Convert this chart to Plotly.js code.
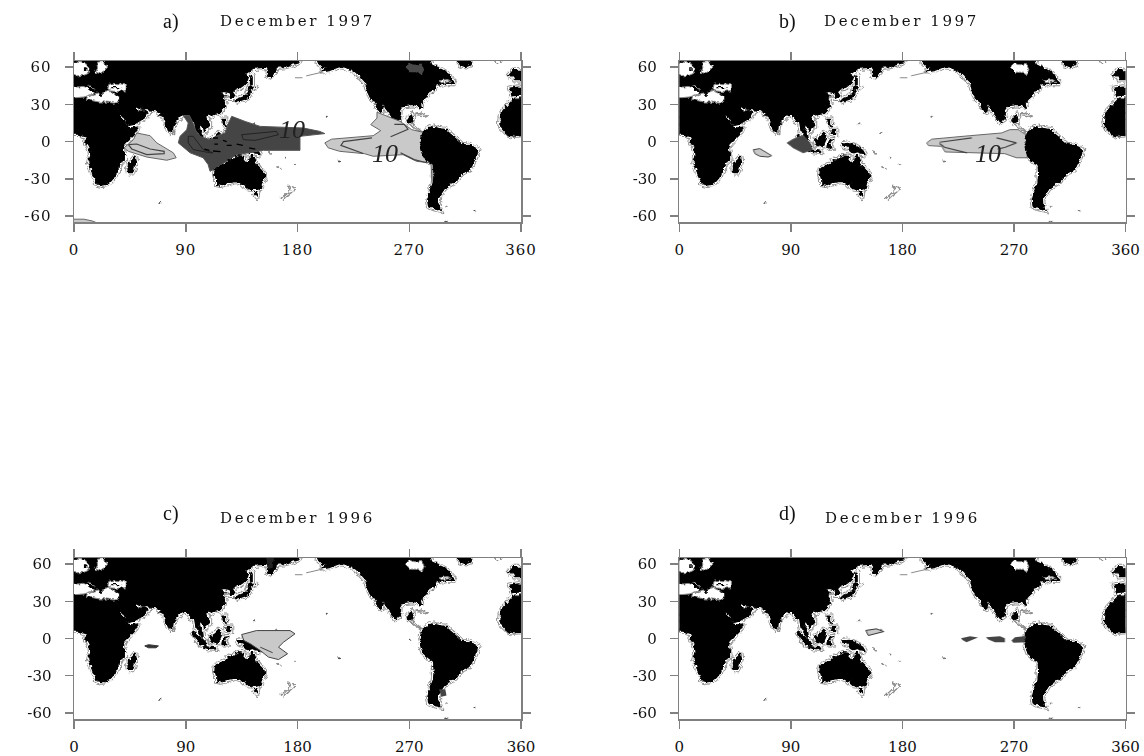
<!DOCTYPE html>
<html><head><meta charset="utf-8">
<script src="https://cdn.plot.ly/plotly-3.0.1.min.js"></script>
<style>
html,body{margin:0;padding:0;background:#fff}
#plot{width:1144px;height:756px;filter:blur(0.55px)}
.xtick text,.ytick text{letter-spacing:1px}
.scatterlayer .trace:nth-child(-n+9),.scatterlayer .trace:last-child{filter:url(#rough)}
</style></head><body>
<svg width="0" height="0" style="position:absolute"><filter id="rough" x="-30%" y="-30%" width="160%" height="160%" filterUnits="objectBoundingBox">
<feTurbulence type="fractalNoise" baseFrequency="0.24" numOctaves="2" seed="7" result="n"/>
<feDisplacementMap in="SourceGraphic" in2="n" scale="4.5" xChannelSelector="R" yChannelSelector="G"/></filter></svg>
<div id="plot"></div>
<script>
// ---- tick values ----
const lonTicks=[0,90,180,270,360];
const latTicks=[60,30,0,-30,-60];
const latLabels=['60','30','0','-30','-60'];
// ---- land outlines [lon,lat] ----
const afroEurasia=[[-3,6],[4,6],[7,4.5],[9,4],[10,2],[9.5,-1],[11.5,-4],[13,-7],[13.5,-11],[13,-14],[12,-17],[14,-22],[15,-26],[17,-30],[18.5,-34],[22,-35],[26,-34.5],[29,-32.5],[32,-29],[33,-26],[35.5,-24],[35.5,-20],[37.5,-17.5],[40.5,-15],[40.5,-10],[39.5,-6],[41,-2],[44,1],[47.5,4.5],[50,8.5],[51.5,12],[47,11],[43.5,11.5],[41.5,15],[39,17.5],[37.5,21],[36,25],[34,28],[33,29.5],[35,28],[38,23],[40,19],[42.5,15],[44,13],[48,14],[52,16],[55,18],[58,20],[59.5,23],[56.5,25],[54,24.5],[51,25],[50,27],[48,30],[51,28],[54,26.5],[57,26],[61,25.5],[66,25],[68,23.5],[70,21],[72.5,20.5],[73,16],[74.5,12.5],[76.5,9],[77.5,8],[79.5,10],[80,14],[82,16.5],[85,19.5],[87,21.5],[89.5,22],[91.5,22],[93,19],[94.5,16],[97,16.5],[98,12],[98.5,8],[100.5,5],[103,1.5],[104,2],[103.5,6],[100.5,10],[100,13.5],[102,12.5],[105,10],[106,9],[109,12],[109,15],[106.5,18.5],[106,20.5],[108.5,21.5],[110.5,20.5],[113,22],[116.5,23],[119.5,26],[121.5,29],[122,31],[120,33.5],[119,35],[122,37],[119,38],[118,39.5],[121,40.5],[124,40],[125,37.5],[126.5,35],[128.5,35],[129.5,37],[127.5,40],[130,42.5],[133,43],[136,45],[139,48],[140.5,52],[137,54],[140,56],[143,59],[150,59.5],[155,60],[157,57],[156,53],[158,52.5],[162,56],[163,60],[170,60.5],[175,62],[180,63.5],[183,68],[-3,68]];
const northAmerica=[[195,68],[197,63],[200,60],[204,59],[198,56],[206,57.5],[211,59.5],[214,60.5],[219,60],[224,58],[227,56],[230,53],[232,50],[235,47],[236,43],[237,39],[239,35],[242,32.5],[244,29],[246,25],[248,24],[249,27],[247,31],[249,30],[251,27],[254,23],[256,20],[259,16],[262,18],[263,22],[263,26],[265,29],[269,29.5],[273,30],[277,29],[279,26.5],[280,27],[279,31],[281,33],[284,35.5],[285,38],[287,41],[290,42],[292,47],[296,46],[300,47],[304,47],[307,47],[304,50],[302,54],[299,56],[296,58],[292,60],[288,62],[286,68]];
const southAmerica=[[281.6,8.3],[285,10.5],[288,11.8],[293,10.5],[299,9.7],[303,6],[307,3],[310,0],[312.5,-2.4],[318,-3],[322,-4.5],[325,-6.5],[324,-11],[322,-16],[320,-20],[318,-22.6],[313,-25],[309,-29],[307,-32],[302,-35],[298,-38],[296,-41],[293.6,-44],[293,-49],[295,-55],[290,-54],[285.6,-52],[285,-47],[286,-42],[288,-37],[289.6,-33],[290,-26],[289.6,-18.5],[285.5,-15.5],[281.5,-12],[280,-8],[279,-4],[280,0],[280,3]];
const westAfrica=[[363,5],[354,4.5],[350,5.5],[347,8],[344,11.5],[343,15],[343.5,20],[345.5,25],[350,30],[353,33],[355,35],[363,35]];
const australia=[[114,-22],[113.5,-26],[115,-31],[115,-34.5],[118,-35],[122,-34],[126,-32.5],[131,-32],[134,-33],[136,-35],[138,-33],[138,-35.5],[141,-38],[144,-38.5],[147,-38.5],[150,-37.5],[151,-33.5],[153.5,-29],[153,-25.5],[150,-22.5],[147,-19.5],[146,-17],[145,-15],[143.5,-11],[142,-12],[141.5,-16],[139,-17.5],[136,-15],[136.5,-12],[133,-11.5],[130,-12.5],[128,-15],[125,-14.5],[122,-18],[118,-20],[115,-21]];
const tasmania=[[145,-41],[148,-41],[147,-43.5]];
const madagascar=[[44,-25],[47,-25],[50,-16],[49.5,-12],[47,-15],[44,-17],[43.5,-22]];
const borneo=[[109,1],[110,-2],[114,-4],[116,-3.5],[118,1],[119,5],[117,7],[114,4],[111,2]];
const sumatra=[[95,5.5],[98,4],[103,0],[106,-3],[106,-6],[102,-5],[99,-1],[96,3]];
const java=[[105,-6.5],[108,-6],[114,-7],[114,-8.5],[108,-8],[105.5,-7.5]];
const sulawesi=[[119,-5],[120,0],[121,1],[125,1.5],[121,-1],[123,-5],[121,-5]];
const newGuinea=[[131,-1],[134,-1],[138,-2],[141,-3],[145,-5],[148,-7],[150,-10.5],[147,-10],[144,-8],[141,-9],[138,-8],[136,-4.5],[133,-3.5]];
const luzon=[[120,14],[120,18],[122,18],[122,14.5],[124,13]];
const mindanao=[[122,7],[123,9],[126,9],[126,6]];
const honshu=[[130,32],[131,34],[136,36],[140,39],[141,41.5],[142,39],[140.5,35.5],[136,34],[132,32.5]];
const hokkaido=[[140,42],[142,45],[145,43.5],[143,42]];
const sakhalin=[[142,46],[142.5,54],[143.5,52],[143.5,46]];
const yucatan=[[268,17],[270,20],[272,21.5],[273,19],[272,16],[270,15]];
const greenland=[[308,68],[311,62],[315,60.5],[319,62],[320,68]];
const britain=[[354,58],[357,58],[363,53],[363,50],[355,50],[354,53],[350,53]];
const spain=[[353,37],[351,43],[358,44],[363,43],[363,38]];
const blackLand=[afroEurasia,northAmerica,southAmerica,westAfrica,australia,tasmania,madagascar,borneo,sumatra,java,sulawesi,newGuinea,luzon,mindanao,honshu,hokkaido,sakhalin,yucatan,greenland,britain,spain];
// ---- inland seas (white over the land) ----
const northSea=[[-3,64],[5,64],[10,62.5],[12,58],[11.5,55],[8,53.5],[2,53],[-3,54]];
const baltic=[[18,64],[24,64.5],[27,60],[24,57],[21,55],[17,56],[19,60]];
const westMed=[[-3,45.5],[3,44],[7,44.5],[10,44],[13,45],[17,41],[15,38],[12,37],[8,36],[-3,35]];
const eastMed=[[11,37],[20,39.5],[23,40],[27,41],[36,37],[36,32.5],[33,31],[25,32],[20,32],[15,33],[10,34]];
const blackSea=[[27,41],[28,46],[33,47],[42,46],[42,41],[34,40.5]];
const stLawrence=[[294,49],[300,50],[304,48.5],[296,47.5]];
const hudsonBay=[[267,60],[270,63],[275,62],[280,63],[282,58],[280,54],[276,56],[271,56]];
const seas=[northSea,baltic,westMed,eastMed,blackSea,stLawrence];
// ---- black fragments on top of the seas ----
const jutland=[[8,60],[10,60],[10,57],[8,57]];
const italy=[[8,45],[13,44],[17,41],[16,38],[14,40],[10,43]];
const greece=[[20,40],[23,40],[23,37],[21,37]];
const crimea=[[30,44],[38,44],[38,43],[30,43]];
const seaIslands=[jutland,italy,greece,crimea];
// ---- outlined land without black core ----
const newZealand=[[172,-35],[175,-37],[178,-38],[175,-41],[171,-44],[168,-47],[166.5,-46],[170,-42.5],[174,-39]];
const iceland=[[337,68],[340,63.5],[344,64],[346,68]];
const centralAmerica=[[272,15],[276,12],[279,9],[283,8.5],[279,8],[275,10.5],[271,13.5]];
const cuba=[[275,22],[279,23],[285,20.5],[283,20],[279,21.5]];
const sriLanka=[[80,9.5],[82,7],[80.5,5.5]];
const solomon=[[155,-6.5],[158,-8.5],[160,-10],[158,-9.5]];
const newCaledonia=[[164,-20],[167,-22.5],[165.5,-22]];
const outlineLand=[newZealand,iceland,centralAmerica,cuba,sriLanka,solomon,newCaledonia];
const aleutians=[[[187,53],[195,54.5],[200,56]],[[178,51.5],[184,51.5]]];
const specksLon=[203.6,178,213.6,271,300,322.5,69.5,163,145,170,299,301];
const specksLat=[20,-18,-16,-1,-52.5,-55.5,-49.5,7,14,-13,-64.5,-64.5];
// ---- panel a anomalies ----
const aIndian=[[50.5,7],[61.3,4.8],[66.7,-1],[80,-9],[82.3,-13],[74.7,-15],[58.6,-12.4],[43.8,-7.8],[40.3,-5],[47.8,1.6]];
const aIndian10=[[43.8,-2.4],[50.5,-1.9],[61.3,-5.9],[72.6,-7.8],[72.6,-9.7],[58.6,-10.5],[46.5,-5.9]];
const aWarmPool=[[88,21],[93,21],[96,15],[98,9],[102,4],[109.6,1.6],[116,5],[121.7,7],[124,14],[127,20.4],[137.8,16.3],[149.9,12.3],[184.8,11],[197.7,8.3],[202,6.5],[182,4.3],[182,-7],[152.6,-7],[131,-10.5],[123,-15.8],[115,-21],[109.6,-23.9],[108,-18.5],[104,-13],[93.5,-9],[84,-1],[85.4,4.3],[90.8,9.6],[92,15]];
const aWarm10a=[[135,5.6],[163,8.3],[164.6,5.6],[145.9,1],[136.4,1.6]];
const aWarm10b=[[92,4.3],[96,4.3],[104,-6.4],[112,-9],[109.6,-9],[96,-6.4],[92,-1]];
const aDashes=[[[112,3],[116,3]],[[113,-2],[116,-2]],[[123,-3],[127,-3]],[[131,-2],[136,-3]],[[141,-5],[146,-6]],[[120,1],[123,0]],[[105,-6],[109,-7]],[[112,-7.5],[118,-8]]];
const aEastPacific=[[202,-1],[207.4,2],[241,4.8],[247,8.9],[239,13.7],[244,19],[244,23.7],[251.8,20.4],[262.5,16.4],[272,9.7],[281,7.5],[279,-3.8],[286.7,-17],[276,-15.9],[265,-10.5],[241,-11.8],[234,-9.7],[214,-7.8],[204.7,-5]];
const aPeruStrip=[[284,-10],[289,-18],[289.5,-33],[288.5,-33],[287.5,-18]];
const aEast10=[[[240,3],[217,0],[215,-3],[233,-9.5]],[[255,4],[269,10],[266,14],[258,14]],[[263,-9],[274,-14.5],[284,-17]]];
const aAntarctic=[[-3,-62.5],[8,-62.5],[15,-64],[22,-67],[-3,-67]];
const aHudsonDark=[[267,60],[270,63],[275,62],[280,63],[282,58],[280,54],[276,56],[271,56]];
// ---- panel b anomalies ----
const bSumatra=[[87,-1],[92,2],[100,5],[105.5,-1],[107,-6.5],[100,-9],[92,-5]];
const bIndian=[[59.7,-6.5],[65,-5.6],[74.5,-11.3],[71.8,-12.4],[65,-11.8],[61,-9.7]];
const bEastPacific=[[199.6,-1],[203.6,2],[234.5,4.8],[260,7],[266.8,9.7],[273.5,9.7],[281.6,4.3],[280,-2.4],[280.8,-13],[272,-13],[262.7,-9.7],[234.5,-9],[214.4,-8.3],[211.7,-3.8],[201,-3.2]];
const bEast10=[[[210,-0.5],[236,3]],[[210,-1.5],[214,-4.5],[232,-9]],[[256,3],[272,-1],[263,-4.5],[257,-6]]];
// ---- panel c anomalies ----
const cPacific=[[135,3.2],[147,6.4],[174,6.4],[178,3.8],[168.7,-3],[164.7,-7],[172,-12.3],[164.7,-17],[156.6,-15],[150,-9.7],[142,-4.3],[136.8,-1.6]];
const cPacificLine=[[[150,-7],[160,-11.5]]];
const cIndian=[[57,-6],[60,-5],[68,-6],[66,-7.5],[60,-7.5]];
const cAndes=[[294,-41],[299,-41],[300,-46],[296,-47]];
const cKamchatka=[[155,65],[161,65],[160,58],[156,57]];
// ---- panel d anomalies ----
const dPacific=[[150.5,6.5],[159,7.8],[165,5.6],[159,3.8],[152.5,2.4]];
const dDash1=[[227.3,0.3],[234.5,1.9],[241,0.8],[235.7,-1.6],[231.7,-3],[228.5,-1.3]];
const dDash2=[[247.4,1],[258.7,1.9],[262.7,0.3],[262.7,-3],[254.7,-3],[249.3,-0.8]];
const dDash3=[[268,-1.6],[270.8,1],[283,2.4],[281.6,-3],[269.5,-3.5]];
// ---- text ----
const letters=['a)','b)','c)','d)'];
const months=['December 1997','December 1997','December 1996','December 1996'];
const contourLabel='10';

const LIGHT='#c9c9c9',DARK='#454545',EDGE='#666666';
const traces=[];
function poly(ax,list,o){
  const x=[],y=[];
  list.forEach(p=>{p.forEach(q=>{x.push(q[0]);y.push(q[1]);});
    if(o.closed!==false){x.push(p[0][0]);y.push(p[0][1]);}
    x.push(null);y.push(null);});
  traces.push({type:'scatter',mode:'lines',x,y,xaxis:'x'+ax,yaxis:'y'+ax,hoverinfo:'skip',showlegend:false,
    fill:o.fill?'toself':'none',fillcolor:o.fill||undefined,connectgaps:false,
    line:{color:o.line||'rgba(0,0,0,0)',width:o.width===undefined?1:o.width,shape:'linear'}});
}
function base(ax,showHudson){
  // grey coastal contour, white gap, black land
  poly(ax,blackLand,{line:'#8c8c8c',width:5.6});
  poly(ax,outlineLand,{fill:'#ffffff',line:'#8c8c8c',width:1.2});
  poly(ax,blackLand,{line:'#ffffff',width:3.8});
  poly(ax,outlineLand,{fill:'#ffffff',line:'#8c8c8c',width:1.1});
  poly(ax,blackLand,{fill:'#000000',line:'#000000',width:1.3});
  poly(ax,seas,{fill:'#ffffff',line:'#888888',width:1});
  poly(ax,seaIslands,{fill:'#000000',width:0});
  poly(ax,[showHudson?hudsonBay:aHudsonDark],{fill:showHudson?'#ffffff':'#484848',line:showHudson?'#888888':undefined,width:showHudson?1:0});
  traces.push({type:'scatter',mode:'markers',x:specksLon,y:specksLat,xaxis:'x'+ax,yaxis:'y'+ax,hoverinfo:'skip',showlegend:false,
    marker:{size:2,color:'#555555'}});
  poly(ax,aleutians,{closed:false,line:'#888888',width:1});
}
// panel a
base('',false);
poly('',[aAntarctic],{fill:LIGHT,line:EDGE,width:1});
poly('',[aIndian,aEastPacific,aPeruStrip],{fill:LIGHT,line:EDGE,width:1});
poly('',[aIndian10],{line:'#444444',width:1.2});
poly('',[aWarmPool],{fill:DARK,line:'#555555',width:1});
poly('',[aWarm10a,aWarm10b],{line:'#222222',width:1});
poly('',aDashes,{closed:false,line:'#000000',width:1.4});
poly('',aEast10,{closed:false,line:'#444444',width:1.2});
poly('',[australia,southAmerica],{fill:'#000000',line:'#000000',width:1.3});
// panel b
base('2',true);
poly('2',[bSumatra],{fill:DARK,line:'#555555',width:1});
poly('2',[bIndian],{fill:LIGHT,line:'#444444',width:1});
poly('2',[bEastPacific],{fill:LIGHT,line:EDGE,width:1});
poly('2',bEast10,{closed:false,line:'#444444',width:1.2});
poly('2',[southAmerica],{fill:'#000000',line:'#000000',width:1.3});
// panel c
base('3',true);
poly('3',[cPacific],{fill:LIGHT,line:'#444444',width:1});
poly('3',cPacificLine,{closed:false,line:'#444444',width:1});
poly('3',[cIndian],{fill:'#333333',line:'#333333',width:1});
poly('3',[cAndes],{fill:'#444444',width:0});
poly('3',[cKamchatka],{fill:'#222222',width:0});
// panel d
base('4',true);
poly('4',[dPacific],{fill:LIGHT,line:'#333333',width:1});
poly('4',[dDash1,dDash2,dDash3],{fill:'#444444',width:0});
poly('4',[southAmerica],{fill:'#000000',line:'#000000',width:1.3});

function xaxis(l,r,anchor){return {domain:[l/1144,r/1144],range:[0,360],anchor,tickvals:lonTicks,ticktext:lonTicks.map(String),
  ticks:'outside',ticklen:8,tickwidth:1.5,tickcolor:'#808080',showline:true,linecolor:'#808080',linewidth:1.5,mirror:'allticks',
  showgrid:false,zeroline:false,ticklabelstandoff:5,tickangle:0,tickfont:{family:'DejaVu Serif',size:15,color:'#111'},fixedrange:true};}
function yaxis(t,b,anchor){return {domain:[1-b/756,1-t/756],range:[-65,65],anchor,tickvals:latTicks,ticktext:latLabels,
  ticks:'outside',ticklen:8,tickwidth:1.5,tickcolor:'#808080',showline:true,linecolor:'#808080',linewidth:1.5,mirror:'allticks',
  showgrid:false,zeroline:false,ticklabelstandoff:10,tickfont:{family:'DejaVu Serif',size:15,color:'#111'},fixedrange:true};}

const lx=[170.5,787,170.5,787], ly=[21,21,513,513], mx=[297,901,297,902], my=[21,21,518,518];
const anns=[];
for(let i=0;i<4;i++){
  anns.push({xref:'paper',yref:'paper',x:lx[i]/1144,y:1-ly[i]/756,text:letters[i],showarrow:false,xanchor:'center',yanchor:'middle',
    font:{family:'Liberation Serif',size:20,color:'#111'}});
  anns.push({xref:'paper',yref:'paper',x:mx[i]/1144,y:1-my[i]/756,text:months[i],showarrow:false,xanchor:'center',yanchor:'middle',
    font:{family:'DejaVu Serif',size:15,color:'#111'}});
}
[['x','y',175.7,9.6],['x','y',250.6,-9.6],['x2','y2',248.7,-9.6]].forEach(a=>{
  anns.push({xref:a[0],yref:a[1],x:a[2],y:a[3],text:contourLabel,showarrow:false,
    font:{family:'Liberation Serif',size:26,style:'italic',color:'#222'}});
});
const layout={width:1144,height:756,margin:{l:0,r:0,t:0,b:0},paper_bgcolor:'#fff',plot_bgcolor:'#fff',showlegend:false,
  xaxis:xaxis(74,521,'y'),yaxis:yaxis(61,222.3,'x'),
  xaxis2:xaxis(679.3,1125.5,'y2'),yaxis2:yaxis(61,222.3,'x2'),
  xaxis3:xaxis(74,521,'y3'),yaxis3:yaxis(558,719,'x3'),
  xaxis4:xaxis(679.3,1125.5,'y4'),yaxis4:yaxis(558,719,'x4'),
  annotations:anns};
Plotly.newPlot('plot',traces,layout,{displayModeBar:false,staticPlot:true}).then(()=>{
  document.querySelectorAll('.annotation-text').forEach(t=>{
    if(/December/.test(t.textContent)) t.style.letterSpacing='2.6px';
  });
});
</script></body></html>
